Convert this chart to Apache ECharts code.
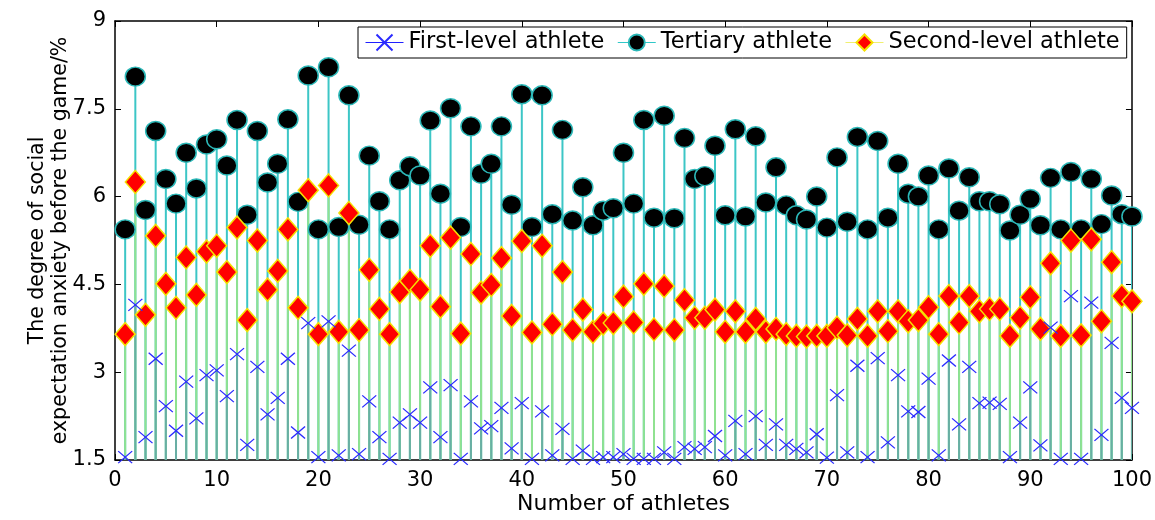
<!DOCTYPE html>
<html>
<head>
<meta charset="utf-8">
<script src="https://cdn.jsdelivr.net/npm/echarts@6/dist/echarts.min.js"></script>
<style>html,body{margin:0;padding:0;background:#fff}#c{width:1155px;height:520px}</style>
</head>
<body>
<div id="c"></div>
<script>
// ---- data ----
const athletes = Array.from({length: 100}, (_, i) => i + 1);
const firstLevel = [1.55,4.15,1.89,3.23,2.42,2.0,2.84,2.21,2.95,3.03,
2.59,3.31,1.76,3.09,2.28,2.56,3.23,1.97,3.84,1.55,
3.87,1.58,3.37,1.6,2.5,1.89,1.52,2.14,2.28,2.14,
2.74,1.89,2.78,1.52,2.5,2.04,2.08,2.39,1.7,2.47,
1.52,2.33,1.58,2.03,1.52,1.66,1.52,1.55,1.55,1.6,
1.52,1.52,1.52,1.63,1.52,1.72,1.69,1.72,1.91,1.58,
2.17,1.6,2.25,1.76,2.11,1.76,1.69,1.63,1.94,1.54,
2.61,1.63,3.11,1.55,3.24,1.8,2.95,2.33,2.32,2.89,
1.58,3.2,2.11,3.09,2.47,2.48,2.46,1.55,2.14,2.74,
1.75,3.76,1.52,4.3,1.52,4.19,1.93,3.5,2.56,2.39];
const tertiary = [5.44,8.05,5.77,7.12,6.30,5.88,6.75,6.14,6.89,6.98,
6.53,7.31,5.69,7.12,6.24,6.56,7.32,5.91,8.07,5.44,
8.21,5.48,7.73,5.52,6.70,5.92,5.44,6.28,6.52,6.36,
7.30,6.05,7.51,5.48,7.20,6.39,6.56,7.2,5.86,7.75,
5.48,7.73,5.70,7.14,5.59,6.16,5.51,5.76,5.80,6.75,
5.88,7.31,5.64,7.38,5.63,7.0,6.30,6.35,6.87,5.68,
7.15,5.66,7.03,5.90,6.50,5.85,5.68,5.61,6.0,5.47,
6.67,5.57,7.02,5.44,6.95,5.64,6.56,6.05,6.0,6.36,
5.44,6.48,5.76,6.33,5.92,5.92,5.87,5.42,5.69,5.96,
5.51,6.32,5.44,6.42,5.44,6.30,5.53,6.02,5.70,5.66];
const secondLevel = [3.65,6.25,3.98,5.33,4.51,4.10,4.96,4.32,5.06,5.16,
4.71,5.47,3.89,5.25,4.41,4.73,5.44,4.10,6.11,3.65,
6.19,3.69,5.72,3.72,4.75,4.08,3.65,4.37,4.56,4.41,
5.16,4.12,5.30,3.66,5.02,4.36,4.49,4.95,3.96,5.24,
3.68,5.16,3.82,4.71,3.72,4.07,3.69,3.83,3.84,4.29,
3.85,4.51,3.73,4.47,3.72,4.23,3.93,3.93,4.07,3.69,
4.04,3.69,3.91,3.69,3.74,3.65,3.62,3.61,3.62,3.62,
3.76,3.63,3.91,3.62,4.04,3.70,4.04,3.87,3.89,4.11,
3.65,4.30,3.85,4.30,4.04,4.08,4.08,3.62,3.93,4.28,
3.74,4.86,3.62,5.25,3.63,5.27,3.87,4.88,4.30,4.21];
const seriesNames = ['First-level athlete', 'Tertiary athlete', 'Second-level athlete'];
const xTicks = [0,10,20,30,40,50,60,70,80,90,100];
const yTicks = [1.5,3,4.5,6,7.5,9];
const xTitle = 'Number of athletes';
const yTitle = 'The degree of social\nexpectation anxiety before the game/%';

// ---- chart ----
const FONT = 'DejaVu Sans';
const yMin = yTicks[0];
const pair = arr => athletes.map((a, i) => [a, arr[i]]);

function stem(color, data, z) {
  return {
    type: 'custom', silent: true, z: z, clip: true,
    data: data,
    renderItem: function (params, api) {
      const x = api.value(0), y = api.value(1);
      const p1 = api.coord([x, y]);
      const p0 = api.coord([x, yMin]);
      return {type: 'line', shape: {x1: p0[0], y1: p0[1], x2: p1[0], y2: p1[1]},
              style: {stroke: color, lineWidth: 2}};
    }
  };
}

const axisCommon = {
  type: 'value',
  axisLine: {show: true, onZero: false, lineStyle: {color: '#000', width: 1.5}},
  axisTick: {show: true, inside: true, length: 6, lineStyle: {color: '#000', width: 1}},
  splitLine: {show: false},
};

const chart = echarts.init(document.getElementById('c'));
chart.setOption({
  animation: false,
  backgroundColor: '#fff',
  grid: {left: 115, right: 23, top: 21, bottom: 52, containLabel: false},
  legend: {
    left: 358, top: 27, orient: 'horizontal',
    padding: [4, 7, 4, 7],
    itemWidth: 38, itemHeight: 20, itemGap: 13,
    backgroundColor: '#fff', borderColor: '#000', borderWidth: 1,
    textStyle: {fontFamily: FONT, fontSize: 22.5, color: '#000'},
    data: [
      {name: seriesNames[0], lineStyle: {color: '#2020ff', width: 1, opacity: 1}},
      {name: seriesNames[1], lineStyle: {color: '#30c8c8', width: 1, opacity: 1}},
      {name: seriesNames[2], lineStyle: {color: '#f0f070', width: 1, opacity: 1}}
    ]
  },
  xAxis: [
    Object.assign({}, axisCommon, {
      position: 'bottom', min: xTicks[0], max: xTicks[xTicks.length - 1], interval: xTicks[1] - xTicks[0],
      axisLabel: {fontFamily: FONT, fontSize: 21, color: '#000', margin: 10},
      name: xTitle, nameLocation: 'middle', nameGap: 33, nameMoveOverlap: false,
      nameTextStyle: {fontFamily: FONT, fontSize: 22, color: '#000'}
    }),
    Object.assign({}, axisCommon, {
      position: 'top', min: xTicks[0], max: xTicks[xTicks.length - 1], interval: xTicks[1] - xTicks[0],
      axisLabel: {show: false}
    })
  ],
  yAxis: [
    Object.assign({}, axisCommon, {
      position: 'left', min: yMin, max: yTicks[yTicks.length - 1], interval: yTicks[1] - yTicks[0],
      axisLabel: {fontFamily: FONT, fontSize: 21, color: '#000', margin: 9},
      name: yTitle, nameLocation: 'middle', nameGap: 43, nameRotate: 90, nameMoveOverlap: false,
      nameTextStyle: {fontFamily: FONT, fontSize: 20.5, color: '#000', lineHeight: 23, align: 'center'}
    }),
    Object.assign({}, axisCommon, {
      position: 'right', min: yMin, max: yTicks[yTicks.length - 1], interval: yTicks[1] - yTicks[0],
      axisLabel: {show: false}
    })
  ],
  series: [
    stem('#3cc6c6', pair(tertiary), 1),
    stem('#90e290', pair(secondLevel), 2),
    stem('#68aea4', pair(firstLevel), 3),
    {
      name: seriesNames[1], type: 'line', z: 4, data: pair(tertiary),
      showSymbol: true, showAllSymbol: true, symbol: 'circle', symbolSize: [20, 19],
      lineStyle: {opacity: 0, color: '#30c8c8'},
      itemStyle: {color: '#000', borderColor: '#2cb8b8', borderWidth: 1.5},
      emphasis: {disabled: true}
    },
    {
      name: seriesNames[2], type: 'line', z: 5, data: pair(secondLevel),
      showSymbol: true, showAllSymbol: true, symbol: 'diamond', symbolSize: [20, 23],
      lineStyle: {opacity: 0, color: '#f0f070'},
      itemStyle: {color: '#ff0000', borderColor: '#f5e000', borderWidth: 1.5},
      emphasis: {disabled: true}
    },
    {
      name: seriesNames[0], type: 'line', z: 6, data: pair(firstLevel),
      showSymbol: true, showAllSymbol: true, symbol: 'path://M0,0L10,10M10,0L0,10', symbolSize: [14, 12],
      lineStyle: {opacity: 0, color: '#2020ff'},
      itemStyle: {color: 'none', borderColor: '#2a2aff', borderWidth: 1.2},
      emphasis: {disabled: true}
    }
  ]
});
</script>
</body>
</html>
